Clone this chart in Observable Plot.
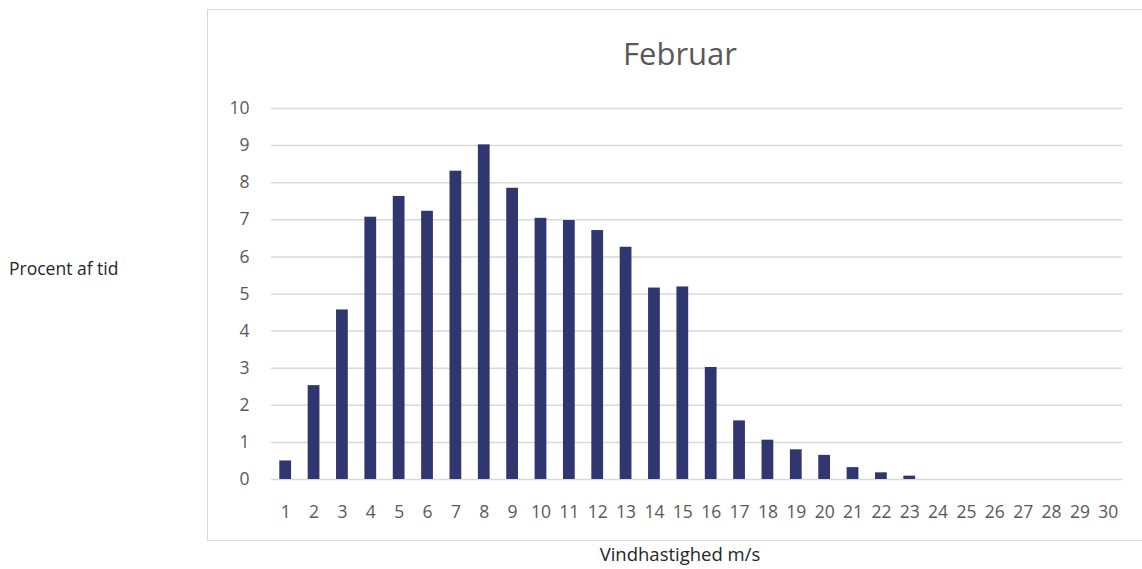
<!DOCTYPE html>
<html>
<head>
<meta charset="utf-8">
<script src="https://cdn.jsdelivr.net/npm/d3@7"></script>
<script src="https://cdn.jsdelivr.net/npm/@observablehq/plot@0.6"></script>
<style>
  html, body { margin: 0; padding: 0; background: #fff; }
  #wrap { position: relative; width: 1142px; height: 569px; overflow: hidden; font-family: "Open Sans", sans-serif; }
  #border { position: absolute; left: 207px; top: 9px; width: 960px; height: 532px; border: 1.5px solid #d9d9d9; box-sizing: border-box; }
  #title { position: absolute; left: 580px; width: 200px; top: 32px; text-align: center; font-size: 31px; color: #595959; }
  #ylab { position: absolute; left: 9px; top: 256px; font-size: 17.5px; color: #262626; }
  #xlab { position: absolute; left: 530px; width: 300px; top: 541px; text-align: center; font-size: 18.5px; color: #262626; }
  #chart { position: absolute; left: 0; top: 0; }
</style>
</head>
<body>
<div id="wrap">
  <div id="border"></div>
  <div id="chart"></div>
  <div id="title">Februar</div>
  <div id="ylab">Procent af tid</div>
  <div id="xlab">Vindhastighed m/s</div>
</div>
<script>
const speeds = [1,2,3,4,5,6,7,8,9,10,11,12,13,14,15,16,17,18,19,20,21,22,23,24,25,26,27,28,29,30];
const percent = [0.50,2.53,4.57,7.07,7.63,7.23,8.31,9.02,7.85,7.04,6.98,6.71,6.26,5.16,5.19,3.02,1.58,1.06,0.80,0.65,0.32,0.18,0.09,0,0,0,0,0,0,0];
const yTicks = [0,1,2,3,4,5,6,7,8,9,10];

const data = speeds.map((s, i) => ({speed: s, pct: percent[i]}));

const chart = Plot.plot({
  width: 1142,
  height: 569,
  marginLeft: 271,
  marginRight: 20,
  marginTop: 108,
  marginBottom: 90,
  style: { background: "transparent", fontFamily: "Open Sans, sans-serif", fontSize: "17.5px", color: "#595959" },
  x: { type: "band", domain: speeds, padding: 0, round: false, label: null },
  y: { domain: [0, 10], label: null },
  marks: [
    Plot.gridY(yTicks, { stroke: "#d9d9d9", strokeOpacity: 1, strokeWidth: 1.5 }),
    Plot.barY(data, { x: "speed", y: "pct", fill: "#2f3670", insetLeft: 8.3, insetRight: 8.3 }),
    Plot.axisY(yTicks, { tickSize: 0, tickPadding: 22, label: null, fill: "#595959" }),
    Plot.axisX(speeds, { tickSize: 0, tickPadding: 26, label: null, fill: "#595959" })
  ]
});
document.getElementById("chart").appendChild(chart);
</script>
</body>
</html>
